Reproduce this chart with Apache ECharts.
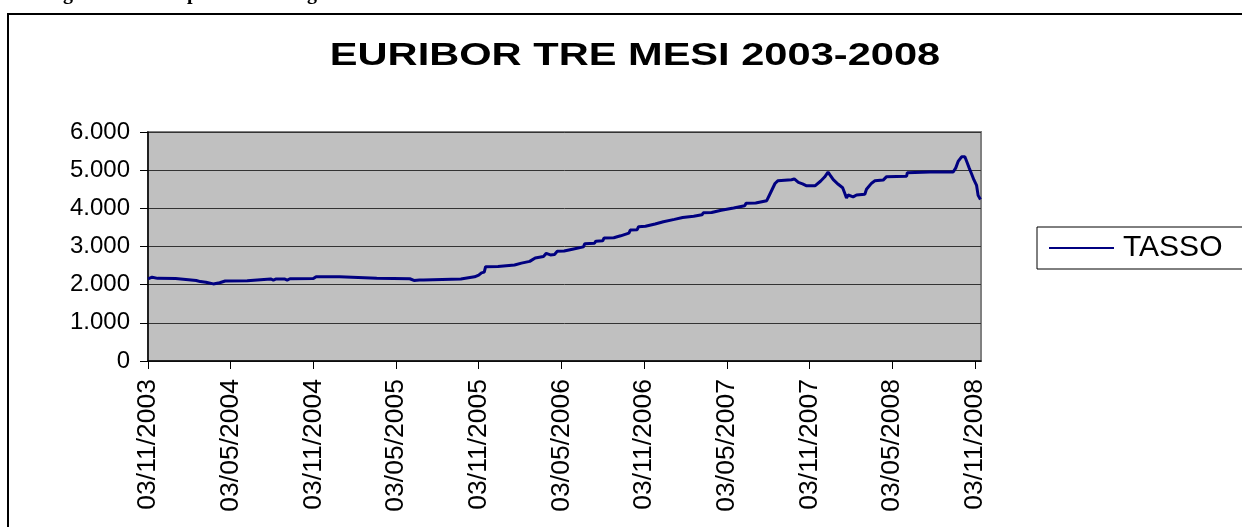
<!DOCTYPE html>
<html>
<head>
<meta charset="utf-8">
<script src="https://cdn.jsdelivr.net/npm/echarts@6/dist/echarts.min.js"></script>
<style>
  html, body { margin: 0; padding: 0; background: #fff; }
  #grafico { width: 1242px; height: 527px; }
</style>
</head>
<body>
<div id="grafico"></div>
<script>
// mesi trascorsi dal 03/11/2003
var mesi = [
    0, 0.3, 0.7, 2.0, 2.1, 3.5, 3.8, 4.2, 4.74, 5.2, 5.6, 7.2, 7.3, 8.9, 9.1, 9.3, 9.9, 10.1, 10.3,
    12.0, 12.2, 13.9, 14.0, 16.6, 16.7, 19.0, 19.3, 19.7, 20.0, 20.1, 22.7, 22.8, 23.7, 24.0, 24.2, 24.4, 24.5,
    25.4, 25.5, 26.6, 26.7, 27.1, 27.2, 27.7, 27.8, 28.1, 28.2, 28.7, 28.9, 29.2, 29.5,
    29.7, 30.2, 30.3, 30.8, 30.9, 31.6, 31.7, 32.4, 32.5, 33.0, 33.1, 33.8, 33.9, 34.3, 34.4,
    34.9, 35.0, 35.5, 35.6, 36.1, 36.2, 36.8, 36.9, 37.4, 37.5, 38.2, 38.3, 38.8, 38.9, 39.6,
    39.7, 40.2, 40.3, 40.9, 41.0, 41.6, 41.7, 42.5, 42.6, 43.3, 43.4, 44.1, 44.2, 44.9,
    45.1, 45.3, 45.5, 45.7, 46.7, 46.9, 47.2, 47.5, 47.8, 48.4, 48.8, 49.1, 49.35, 49.5,
    49.73, 50.09, 50.41, 50.57, 50.69, 50.81, 51.17, 51.42, 52.02, 52.14, 52.51, 52.75, 53.35, 53.6,
    55.05, 55.1, 56.74, 58.43, 58.62, 58.79, 59.04, 59.28, 59.4, 59.59, 59.77, 59.93, 60.13, 60.24, 60.41
];
var tasso = [
    2150, 2195, 2165, 2160, 2115, 2110, 2080, 2065, 2020, 2050, 2095, 2100, 2150, 2150, 2120, 2150, 2150, 2120, 2155,
    2160, 2210, 2210, 2165, 2165, 2155, 2155, 2110, 2120, 2120, 2150, 2150, 2200, 2205, 2250, 2310, 2330, 2470,
    2475, 2510, 2515, 2560, 2565, 2600, 2610, 2660, 2700, 2730, 2740, 2820, 2780, 2790,
    2875, 2880, 2920, 2930, 2970, 2990, 3075, 3085, 3140, 3150, 3225, 3230, 3270, 3280, 3330,
    3350, 3430, 3440, 3520, 3530, 3575, 3590, 3640, 3650, 3700, 3710, 3750, 3760, 3780, 3790,
    3820, 3830, 3885, 3890, 3940, 3950, 4000, 4010, 4060, 4070, 4130, 4140, 4190, 4200,
    4350, 4500, 4650, 4720, 4750, 4770, 4680, 4640, 4590, 4590, 4710, 4820, 4950, 4870,
    4750, 4630, 4540, 4390, 4270, 4350, 4300, 4350, 4370, 4500, 4660, 4720, 4740, 4830,
    4840, 4930, 4950, 4950, 5060, 5230, 5350, 5350, 5240, 5060, 4900, 4750, 4600, 4340, 4230
];

// etichette asse x, ogni 6 mesi
var tickMesi = [0, 6, 12, 18, 24, 30, 36, 42, 48, 54, 60];
var etichette = ['03/11/2003', '03/05/2004', '03/11/2004', '03/05/2005', '03/11/2005', '03/05/2006',
    '03/11/2006', '03/05/2007', '03/11/2007', '03/05/2008', '03/11/2008'];

var titolo = 'EURIBOR TRE MESI 2003-2008';

var myChart = echarts.init(document.getElementById('grafico'));

var punti = [];
for (var i = 0; i < mesi.length; i++) {
    punti.push([mesi[i], tasso[i]]);
}

var option = {
    backgroundColor: '#ffffff',
    animation: false,
    legend: {
        data: ['TASSO'],
        left: 1037,
        top: 227,
        orient: 'vertical',
        padding: [6, 30, 6, 12],
        borderColor: '#000',
        borderWidth: 1,
        icon: 'rect',
        itemWidth: 65,
        itemHeight: 2,
        textStyle: {
            fontFamily: 'Liberation Sans',
            fontSize: 30,
            color: '#000',
            padding: [0, 0, 0, 4]
        }
    },
    grid: {
        left: 148,
        top: 132,
        right: 261,
        bottom: 166,
        show: true,
        backgroundColor: '#c0c0c0',
        borderColor: '#808080',
        borderWidth: 2
    },
    xAxis: {
        type: 'value',
        min: 0,
        max: 60.45,
        axisLine: { show: true, onZero: false, lineStyle: { color: '#000', width: 1.5 } },
        axisTick: {
            show: true,
            customValues: tickMesi,
            length: 8,
            lineStyle: { color: '#000', width: 1 }
        },
        splitLine: { show: false },
        axisLabel: {
            customValues: tickMesi,
            rotate: 90,
            margin: 18,
            fontFamily: 'Liberation Sans',
            fontSize: 26.5,
            color: '#000',
            formatter: function (v) {
                var k = tickMesi.indexOf(v);
                return k >= 0 ? etichette[k] : '';
            }
        }
    },
    yAxis: {
        type: 'value',
        min: 0,
        max: 6000,
        interval: 1000,
        axisLine: { show: true, lineStyle: { color: '#000', width: 1.5 } },
        axisTick: { show: true, length: 8, lineStyle: { color: '#000', width: 1 } },
        splitLine: { show: true, lineStyle: { color: '#333', width: 1 } },
        axisLabel: {
            margin: 18,
            fontFamily: 'Liberation Sans',
            fontSize: 24,
            color: '#000',
            formatter: function (v) {
                if (v === 0) return '0';
                return Math.floor(v / 1000) + '.' + String(v % 1000).padStart(3, '0');
            }
        }
    },
    series: [{
        name: 'TASSO',
        type: 'line',
        data: punti,
        symbol: 'none',
        color: '#000080',
        lineStyle: { color: '#000080', width: 3 },
        smooth: false
    }],
    graphic: [
        // cornice esterna del grafico
        {
            type: 'rect',
            shape: { x: 8, y: 14, width: 1260, height: 540 },
            style: { fill: 'none', stroke: '#000', lineWidth: 2 },
            silent: true
        },
        // titolo, allargato in orizzontale come nell'originale
        {
            type: 'text',
            x: 635,
            y: 40,
            scaleX: 1.3,
            style: {
                text: titolo,
                font: 'bold 32px "Liberation Sans"',
                textAlign: 'center',
                textVerticalAlign: 'top',
                fill: '#000'
            }
        },
        // resti della riga di testo tagliata in alto
        { type: 'text', x: 63, y: 4, style: { text: 'g', font: 'bold 20px "Liberation Serif"', textVerticalAlign: 'bottom', fill: '#000' } },
        { type: 'text', x: 187, y: 4, style: { text: 'p', font: 'bold 20px "Liberation Serif"', textVerticalAlign: 'bottom', fill: '#000' } },
        { type: 'text', x: 307, y: 4, style: { text: 'g', font: 'bold 20px "Liberation Serif"', textVerticalAlign: 'bottom', fill: '#000' } }
    ]
};

myChart.setOption(option);
</script>
</body>
</html>
